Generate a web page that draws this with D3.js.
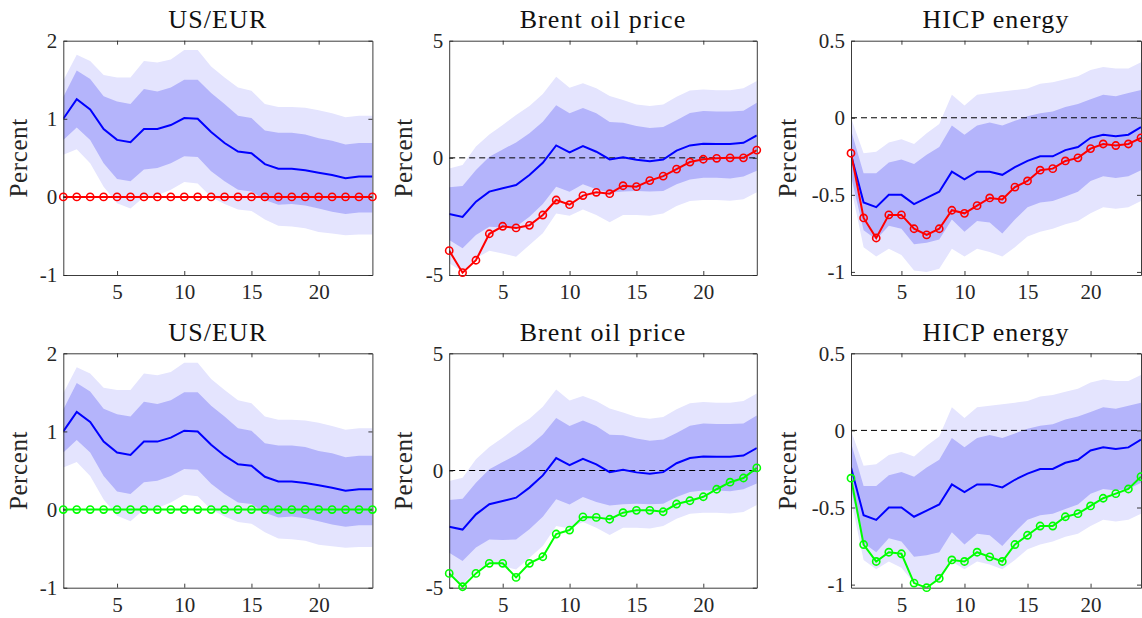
<!DOCTYPE html>
<html>
<head>
<meta charset="utf-8">
<script src="https://cdn.jsdelivr.net/npm/d3@7"></script>
<style>
  body { margin: 0; background: #fff; }
</style>
</head>
<body>
<div id="chart"></div>
<script>
// horizon (months)
const horizon = [1,2,3,4,5,6,7,8,9,10,11,12,13,14,15,16,17,18,19,20,21,22,23,24];
const xTicks = [5, 10, 15, 20];

// US/EUR
const usdOuterHi = [1.49,1.82,1.74,1.56,1.53,1.53,1.74,1.72,1.76,1.88,1.88,1.67,1.53,1.40,1.36,1.19,1.15,1.15,1.14,1.11,1.07,1.02,1.04,1.04];
const usdInnerHi = [1.28,1.62,1.51,1.29,1.22,1.19,1.38,1.35,1.40,1.50,1.50,1.33,1.19,1.04,1.01,0.85,0.82,0.82,0.80,0.75,0.72,0.67,0.69,0.69];
const usdMedian  = [1.00,1.25,1.12,0.87,0.73,0.70,0.87,0.87,0.92,1.01,1.00,0.83,0.69,0.58,0.56,0.42,0.36,0.36,0.34,0.31,0.28,0.24,0.26,0.26];
const usdInnerLo = [0.73,0.89,0.73,0.43,0.23,0.20,0.35,0.37,0.43,0.52,0.51,0.33,0.20,0.09,0.07,-0.04,-0.10,-0.09,-0.11,-0.15,-0.19,-0.22,-0.20,-0.20];
const usdOuterLo = [0.54,0.61,0.43,0.13,-0.08,-0.15,0.00,0.02,0.09,0.19,0.17,0.00,-0.09,-0.16,-0.18,-0.29,-0.37,-0.38,-0.40,-0.45,-0.47,-0.49,-0.48,-0.48];
const usdRed   = [0,0,0,0,0,0,0,0,0,0,0,0,0,0,0,0,0,0,0,0,0,0,0,0];
const usdGreen = [0,0,0,0,0,0,0,0,0,0,0,0,0,0,0,0,0,0,0,0,0,0,0,0];
const usdTicks = [-1, 0, 1, 2];

// Brent oil price
const brentOuterHi = [-0.45,-0.31,0.48,1.00,1.40,1.83,2.21,2.72,3.46,2.99,3.18,2.97,2.64,2.47,2.28,2.21,2.28,2.61,2.87,2.92,2.89,2.89,2.97,3.28];
const brentInnerHi = [-1.26,-1.20,-0.52,0.05,0.36,0.66,1.05,1.54,2.24,1.90,2.13,1.90,1.53,1.50,1.36,1.27,1.32,1.60,1.91,2.00,1.98,1.98,2.01,2.35];
const brentMedian  = [-2.40,-2.52,-1.87,-1.44,-1.30,-1.16,-0.73,-0.21,0.53,0.23,0.50,0.26,-0.07,0.03,-0.08,-0.14,-0.07,0.31,0.53,0.60,0.59,0.59,0.64,0.96];
const brentInnerLo = [-3.51,-3.86,-3.29,-2.94,-2.97,-2.94,-2.51,-1.97,-1.23,-1.45,-1.13,-1.34,-1.49,-1.44,-1.42,-1.44,-1.42,-1.13,-0.92,-0.85,-0.85,-0.88,-0.80,-0.55];
const brentOuterLo = [-4.50,-4.86,-4.29,-3.96,-4.08,-4.22,-3.72,-3.22,-2.37,-2.47,-2.20,-2.44,-2.75,-2.44,-2.44,-2.47,-2.37,-2.06,-1.84,-1.80,-1.80,-1.83,-1.77,-1.47];
const brentRed   = [-3.96,-4.90,-4.37,-3.24,-2.92,-2.99,-2.88,-2.44,-1.80,-2.00,-1.61,-1.47,-1.53,-1.19,-1.23,-0.97,-0.78,-0.48,-0.18,-0.06,-0.02,0.00,0.00,0.33];
const brentGreen = [-4.39,-4.96,-4.39,-3.96,-3.96,-4.56,-3.96,-3.68,-2.71,-2.54,-1.98,-2.00,-2.08,-1.80,-1.70,-1.70,-1.76,-1.43,-1.29,-1.12,-0.80,-0.50,-0.32,0.11];
const brentTicks = [-5, 0, 5];

// HICP energy
const hicpOuterHi = [0.00,-0.23,-0.22,-0.16,-0.14,-0.17,-0.10,-0.04,0.15,0.08,0.15,0.16,0.17,0.18,0.19,0.22,0.23,0.25,0.27,0.31,0.33,0.32,0.32,0.36];
const hicpInnerHi = [-0.08,-0.36,-0.36,-0.29,-0.27,-0.30,-0.24,-0.19,-0.05,-0.11,-0.05,-0.03,-0.05,-0.02,0.01,0.03,0.04,0.07,0.09,0.12,0.15,0.14,0.16,0.18];
const hicpMedian  = [-0.24,-0.55,-0.58,-0.50,-0.50,-0.56,-0.52,-0.48,-0.35,-0.40,-0.35,-0.35,-0.37,-0.32,-0.28,-0.25,-0.25,-0.21,-0.19,-0.13,-0.11,-0.12,-0.11,-0.06];
const hicpInnerLo = [-0.38,-0.73,-0.79,-0.70,-0.72,-0.82,-0.81,-0.79,-0.66,-0.74,-0.67,-0.68,-0.75,-0.66,-0.58,-0.55,-0.54,-0.51,-0.48,-0.41,-0.38,-0.39,-0.38,-0.34];
const hicpOuterLo = [-0.45,-0.84,-0.90,-0.85,-0.89,-0.99,-1.00,-0.98,-0.85,-0.90,-0.85,-0.87,-0.90,-0.84,-0.77,-0.74,-0.72,-0.69,-0.67,-0.62,-0.58,-0.59,-0.58,-0.54];
const hicpRed   = [-0.23,-0.65,-0.78,-0.63,-0.63,-0.72,-0.76,-0.72,-0.60,-0.62,-0.57,-0.52,-0.53,-0.45,-0.41,-0.34,-0.33,-0.28,-0.26,-0.20,-0.17,-0.18,-0.17,-0.13];
const hicpGreen = [-0.31,-0.74,-0.85,-0.79,-0.80,-0.99,-1.02,-0.96,-0.84,-0.85,-0.79,-0.82,-0.85,-0.74,-0.68,-0.62,-0.62,-0.56,-0.54,-0.49,-0.44,-0.41,-0.38,-0.30];
const hicpTicks = [-1, -0.5, 0, 0.5];

// layout
const width = 1142, height = 618;
const cols = [
    {left: 63.3, right: 372.4, labelGap: 36},
    {left: 449.2, right: 756.8, labelGap: 37},
    {left: 851, right: 1141, labelGap: 55}
];
const rows = [{top: 40.7, bottom: 275}, {top: 353.3, bottom: 587.7}];

const variables = [
    {title: "US/EUR", domain: [-1, 2], ticks: usdTicks,
     outerHi: usdOuterHi, innerHi: usdInnerHi, median: usdMedian, innerLo: usdInnerLo, outerLo: usdOuterLo,
     alt: [usdRed, usdGreen]},
    {title: "Brent oil price", domain: [-5, 5], ticks: brentTicks,
     outerHi: brentOuterHi, innerHi: brentInnerHi, median: brentMedian, innerLo: brentInnerLo, outerLo: brentOuterLo,
     alt: [brentRed, brentGreen]},
    {title: "HICP energy", domain: [-1.02, 0.5], ticks: hicpTicks,
     outerHi: hicpOuterHi, innerHi: hicpInnerHi, median: hicpMedian, innerLo: hicpInnerLo, outerLo: hicpOuterLo,
     alt: [hicpRed, hicpGreen]}
];
const altColors = ["#ff0000", "#00ff00"];
const FONT = "'Liberation Serif'";

const svg = d3.select("#chart")
    .append("svg")
    .attr("width", width)
    .attr("height", height)
    .style("display", "block");

svg.append("rect").attr("width", width).attr("height", height).attr("fill", "#fff");

const fmt = d => (d < 0 ? "-" + Math.abs(d) : String(d));

rows.forEach((row, ri) => {
    variables.forEach((v, ci) => {
        const col = cols[ci];
        const x = d3.scaleLinear().domain([1, 24]).range([col.left, col.right]);
        const y = d3.scaleLinear().domain(v.domain).range([row.bottom, row.top]);
        const clipId = "clip-" + ri + "-" + ci;

        svg.append("clipPath").attr("id", clipId)
            .append("rect")
            .attr("x", col.left).attr("y", row.top)
            .attr("width", col.right - col.left).attr("height", row.bottom - row.top);

        const g = svg.append("g");
        const plot = g.append("g").attr("clip-path", "url(#" + clipId + ")");

        const band = (lo, hi) => d3.area()
            .x((d, i) => x(horizon[i]))
            .y0((d, i) => y(lo[i]))
            .y1((d, i) => y(hi[i]))(horizon);

        // bands
        plot.append("path").attr("d", band(v.outerLo, v.outerHi)).attr("fill", "#e4e4fe");
        plot.append("path").attr("d", band(v.innerLo, v.innerHi)).attr("fill", "#b4b4fb");

        // axes (box with inward ticks)
        const axisStyle = sel => {
            sel.select(".domain").attr("stroke", "#262626").attr("stroke-width", 0.9);
            sel.selectAll(".tick line").attr("stroke", "#262626").attr("stroke-width", 0.9);
            sel.selectAll(".tick text")
                .style("font-family", FONT)
                .style("font-size", "21px")
                .attr("fill", "#262626");
        };
        g.append("g").attr("transform", "translate(0," + row.bottom + ")")
            .call(d3.axisBottom(x).tickValues(xTicks).tickSizeInner(-4).tickSizeOuter(0).tickPadding(9))
            .call(axisStyle);
        g.append("g").attr("transform", "translate(0," + row.top + ")")
            .call(d3.axisTop(x).tickValues(xTicks).tickSizeInner(-4).tickSizeOuter(0).tickFormat(""))
            .call(axisStyle);
        g.append("g").attr("transform", "translate(" + col.left + ",0)")
            .call(d3.axisLeft(y).tickValues(v.ticks).tickSizeInner(-4).tickSizeOuter(0).tickPadding(6).tickFormat(fmt))
            .call(axisStyle);
        g.append("g").attr("transform", "translate(" + col.right + ",0)")
            .call(d3.axisRight(y).tickValues(v.ticks).tickSizeInner(-4).tickSizeOuter(0).tickFormat(""))
            .call(axisStyle);

        // zero line
        plot.append("line")
            .attr("x1", col.left).attr("x2", col.right)
            .attr("y1", y(0)).attr("y2", y(0))
            .attr("stroke", "#000").attr("stroke-width", 1)
            .attr("stroke-dasharray", "6,4");

        const line = vals => d3.line()
            .x((d, i) => x(horizon[i]))
            .y((d, i) => y(vals[i]))(horizon);

        // median response
        plot.append("path").attr("d", line(v.median))
            .attr("fill", "none").attr("stroke", "#0000ff").attr("stroke-width", 2);

        // counterfactual path
        const alt = v.alt[ri];
        const color = altColors[ri];
        plot.append("path").attr("d", line(alt))
            .attr("fill", "none").attr("stroke", color).attr("stroke-width", 2);
        g.selectAll(".marker")
            .data(alt)
            .enter()
            .append("circle")
            .attr("cx", (d, i) => x(horizon[i]))
            .attr("cy", d => y(d))
            .attr("r", 3.6)
            .attr("fill", "none")
            .attr("stroke", color)
            .attr("stroke-width", 1.6);

        // title
        g.append("text")
            .attr("x", (col.left + col.right) / 2)
            .attr("y", row.top - 12.5)
            .attr("text-anchor", "middle")
            .attr("fill", "#111")
            .style("font-family", FONT)
            .style("font-size", "26px")
            .style("letter-spacing", "1.1px")
            .text(v.title);

        // y label
        g.append("text")
            .attr("transform", "translate(" + (col.left - col.labelGap) + "," + ((row.top + row.bottom) / 2) + ") rotate(-90)")
            .attr("text-anchor", "middle")
            .attr("fill", "#262626")
            .style("font-family", FONT)
            .style("font-size", "25px")
            .style("letter-spacing", "0.6px")
            .text("Percent");
    });
});
</script>
</body>
</html>
